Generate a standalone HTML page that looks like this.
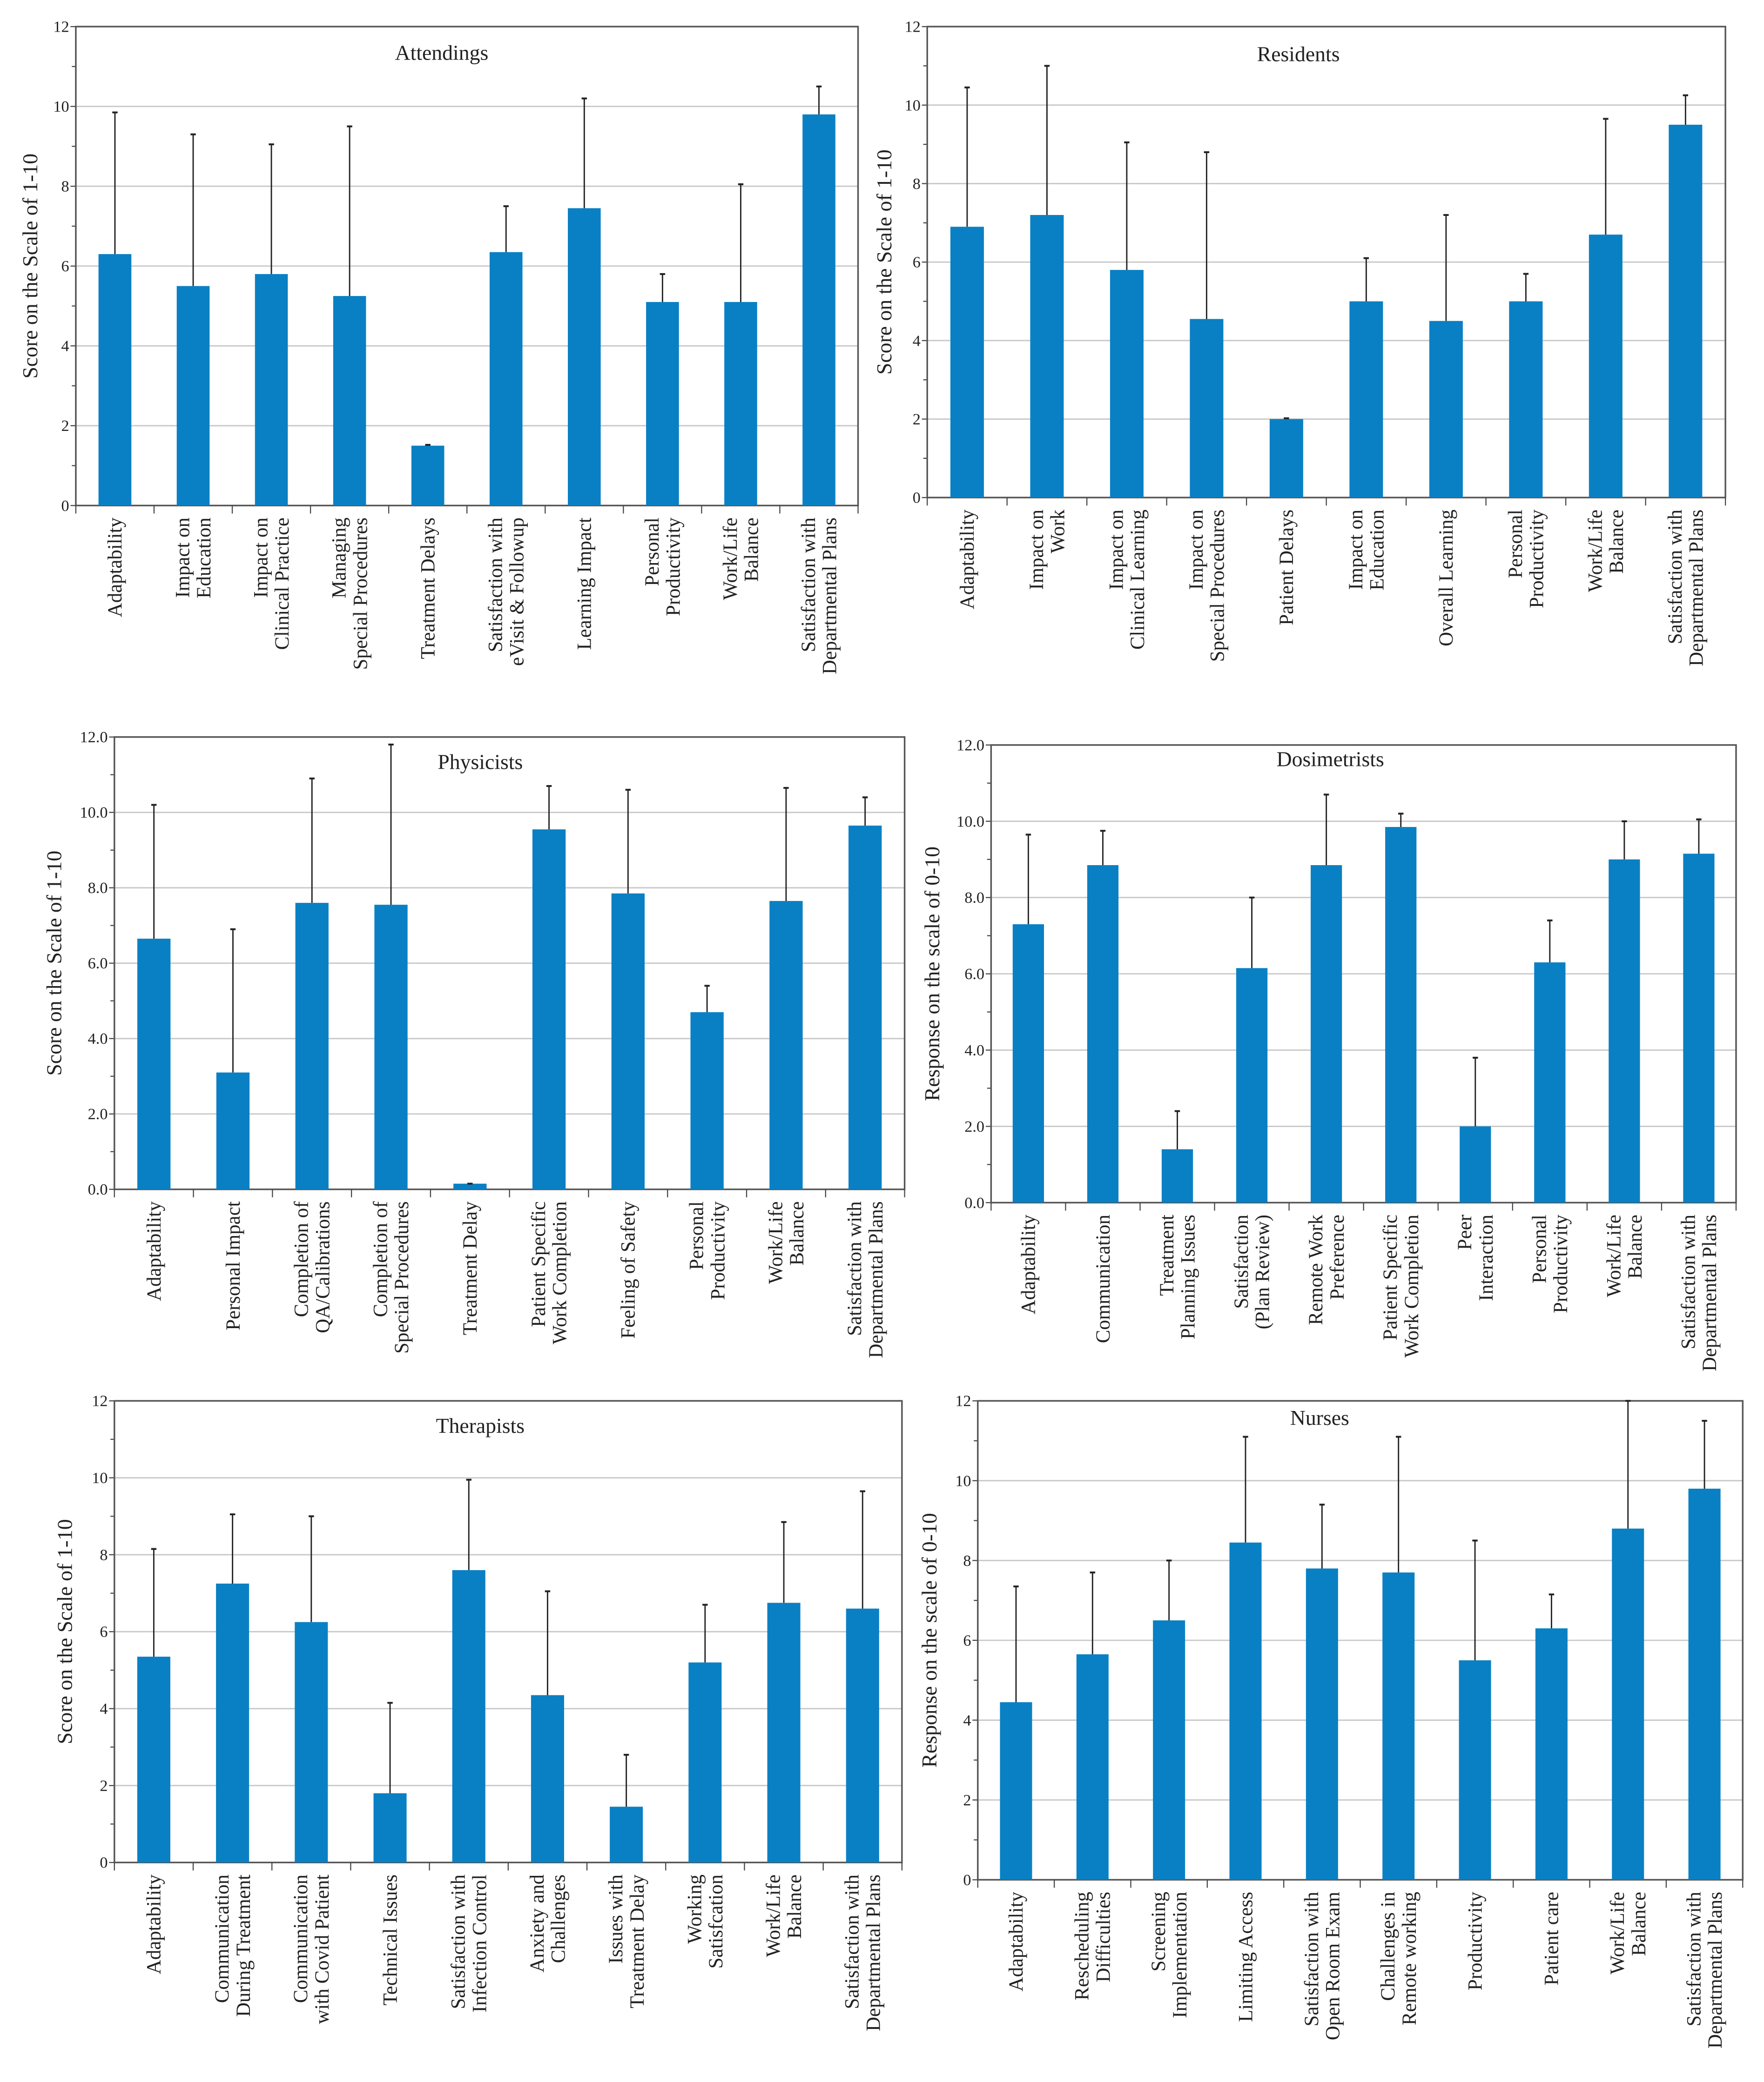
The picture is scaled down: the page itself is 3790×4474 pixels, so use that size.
<!DOCTYPE html>
<html><head><meta charset="utf-8">
<style>
html,body{margin:0;padding:0;background:#fff;}
svg{display:block;}
svg text{font-family:"Liberation Serif","DejaVu Serif",serif;fill:#222;}
</style></head>
<body>
<svg id="fig" width="3790" height="4474" viewBox="0 0 1326 1565" preserveAspectRatio="none" font-family="Liberation Serif, DejaVu Serif, serif" xmlns="http://www.w3.org/2000/svg"></svg>
<script>
// ---- Attendings ----
const attCats = [["Adaptability"],["Impact on","Education"],["Impact on","Clinical Practice"],["Managing","Special Procedures"],["Treatment Delays"],["Satisfaction with","eVisit & Followup"],["Learning Impact"],["Personal","Productivity"],["Work/Life","Balance"],["Satisfaction with","Departmental Plans"]];
const attVals = [6.3,5.5,5.8,5.25,1.5,6.35,7.45,5.1,5.1,9.8];
const attErr = [9.85,9.3,9.05,9.5,1.52,7.5,10.2,5.8,8.05,10.5];
// ---- Residents ----
const resCats = [["Adaptability"],["Impact on","Work"],["Impact on","Clinical Learning"],["Impact on","Special Procedures"],["Patient Delays"],["Impact on","Education"],["Overall Learning"],["Personal","Productivity"],["Work/Life","Balance"],["Satisfaction with","Departmental Plans"]];
const resVals = [6.9,7.2,5.8,4.55,2.0,5.0,4.5,5.0,6.7,9.5];
const resErr = [10.45,11.0,9.05,8.8,2.02,6.1,7.2,5.7,9.65,10.25];
// ---- Physicists ----
const phyCats = [["Adaptability"],["Personal Impact"],["Completion of","QA/Calibrations"],["Completion of","Special Procedures"],["Treatment Delay"],["Patient Specific","Work Completion"],["Feeling of Safety"],["Personal","Productivity"],["Work/Life","Balance"],["Satisfaction with","Departmental Plans"]];
const phyVals = [6.65,3.1,7.6,7.55,0.15,9.55,7.85,4.7,7.65,9.65];
const phyErr = [10.2,6.9,10.9,11.8,0.15,10.7,10.6,5.4,10.65,10.4];
// ---- Dosimetrists ----
const dosCats = [["Adaptability"],["Communication"],["Treatment","Planning Issues"],["Satisfaction","(Plan Review)"],["Remote Work","Preference"],["Patient Specific","Work Completion"],["Peer","Interaction"],["Personal","Productivity"],["Work/Life","Balance"],["Satisfaction with","Departmental Plans"]];
const dosVals = [7.3,8.85,1.4,6.15,8.85,9.85,2.0,6.3,9.0,9.15];
const dosErr = [9.65,9.75,2.4,8.0,10.7,10.2,3.8,7.4,10.0,10.05];
// ---- Therapists ----
const thrCats = [["Adaptability"],["Communication","During Treatment"],["Communication","with Covid Patient"],["Technical Issues"],["Satisfaction with","Infection Control"],["Anxiety and","Challenges"],["Issues with","Treatment Delay"],["Working","Satisfcation"],["Work/Life","Balance"],["Satisfaction with","Departmental Plans"]];
const thrVals = [5.35,7.25,6.25,1.8,7.6,4.35,1.45,5.2,6.75,6.6];
const thrErr = [8.15,9.05,9.0,4.15,9.95,7.05,2.8,6.7,8.85,9.65];
// ---- Nurses ----
const nurCats = [["Adaptability"],["Rescheduling","Difficulties"],["Screening","Implementation"],["Limiting Access"],["Satisfaction with","Open Room Exam"],["Challenges in","Remote working"],["Productivity"],["Patient care"],["Work/Life","Balance"],["Satisfaction with","Departmental Plans"]];
const nurVals = [4.45,5.65,6.5,8.45,7.8,7.7,5.5,6.3,8.8,9.8];
const nurErr = [7.35,7.7,8.0,11.1,9.4,11.1,8.5,7.15,12.0,11.5];
const yTicks = [0,2,4,6,8,10,12];

const NS="http://www.w3.org/2000/svg";
const svg=document.getElementById('fig');
const FF='Liberation Serif, DejaVu Serif, serif';
function mk(tag,attrs,parent){const e=document.createElementNS(NS,tag);for(const k in attrs)e.setAttribute(k,attrs[k]);if(tag==='text')e.setAttribute('font-family',FF);(parent||svg).appendChild(e);return e;}

function panel(o){
  const g=mk('g',{});
  
  
  const yS=v=>o.b-(v/12)*(o.b-o.t);
  const n=o.cats.length, bw=(o.r-o.l)/n;
  const xS=i=>o.l+bw*(i+0.5);
  yTicks.forEach(v=>{
    if(v>0&&v<12){const l=mk('line',{x1:o.l,x2:o.r,y1:yS(v),y2:yS(v),stroke:'#c8c8c8','stroke-width':1},g);
      
      }
    const t=mk('text',{x:o.l-5,y:yS(v)+4,'text-anchor':'end','font-size':12},g);
    t.textContent=o.dec?v.toFixed(1):String(v);
    
    
    mk('line',{x1:o.l-4,x2:o.l,y1:yS(v),y2:yS(v),stroke:'#444','stroke-width':0.8},g);
    if(v<12) mk('line',{x1:o.l-3,x2:o.l,y1:yS(v+1),y2:yS(v+1),stroke:'#444','stroke-width':0.8},g);
  });
  const fr=mk('rect',{x:o.l,y:o.t,width:o.r-o.l,height:o.b-o.t,fill:'none',stroke:'#555','stroke-width':1.2},g);
  
  
  for(let i=0;i<=n;i++) mk('line',{x1:o.l+bw*i,x2:o.l+bw*i,y1:o.b,y2:o.b+6,stroke:'#444','stroke-width':0.8},g);
  o.vals.forEach((v,i)=>{
    const cx=xS(i), w=bw*0.42;
    const r=mk('rect',{x:cx-w/2,y:yS(v),width:w,height:Math.max(yS(0)-yS(v),0.5),fill:'#0a80c4'},g);
    
    
    const e=o.err[i];
    const el=mk('line',{x1:cx,x2:cx,y1:yS(v),y2:yS(e),stroke:'#222','stroke-width':1},g);
    
    
    mk('line',{x1:cx-2,x2:cx+2,y1:yS(e),y2:yS(e),stroke:'#222','stroke-width':1.4},g);
    const lines=o.cats[i];
    lines.forEach((ln,j)=>{
      const off=(j-(lines.length-1)/2)*16;
      const tx=cx+off+5, ty=o.b+9;
      const t=mk('text',{x:tx,y:ty,'text-anchor':'end','font-size':15,transform:'rotate(-90 '+tx+' '+ty+')'},g);
      t.textContent=ln;
      
      
    });
  });
  const tt=mk('text',{x:o.tx,y:o.ty,'text-anchor':'middle','font-size':16},g);
  tt.textContent=o.title;
  
  
  const ym=(o.t+o.b)/2, yx=o.yx;
  const yt=mk('text',{x:yx,y:ym,'text-anchor':'middle','font-size':16,transform:'rotate(-90 '+yx+' '+ym+')'},g);
  yt.textContent=o.ytitle;
  
  
}
const S1="Score on the Scale of 1-10", S2="Response on the scale of 0-10";
panel({key:'attendings',title:'Attendings',tx:332,ty:45,l:57,r:645,t:20,b:380,cats:attCats,vals:attVals,err:attErr,ytitle:S1,yx:28,dec:false});
panel({key:'residents',title:'Residents',tx:976,ty:46,l:697,r:1297,t:20,b:374,cats:resCats,vals:resVals,err:resErr,ytitle:S1,yx:670,dec:false});
panel({key:'physicists',title:'Physicists',tx:361,ty:578,l:86,r:680,t:554,b:894,cats:phyCats,vals:phyVals,err:phyErr,ytitle:S1,yx:46,dec:true});
panel({key:'dosimetrists',title:'Dosimetrists',tx:1000,ty:576,l:745,r:1305,t:560,b:904,cats:dosCats,vals:dosVals,err:dosErr,ytitle:S2,yx:706,dec:true});
panel({key:'therapists',title:'Therapists',tx:361,ty:1077,l:86,r:678,t:1053,b:1400,cats:thrCats,vals:thrVals,err:thrErr,ytitle:S1,yx:54,dec:false});
panel({key:'nurses',title:'Nurses',tx:992,ty:1071,l:735,r:1310,t:1053,b:1413,cats:nurCats,vals:nurVals,err:nurErr,ytitle:S2,yx:704,dec:false});
</script>
</body></html>
